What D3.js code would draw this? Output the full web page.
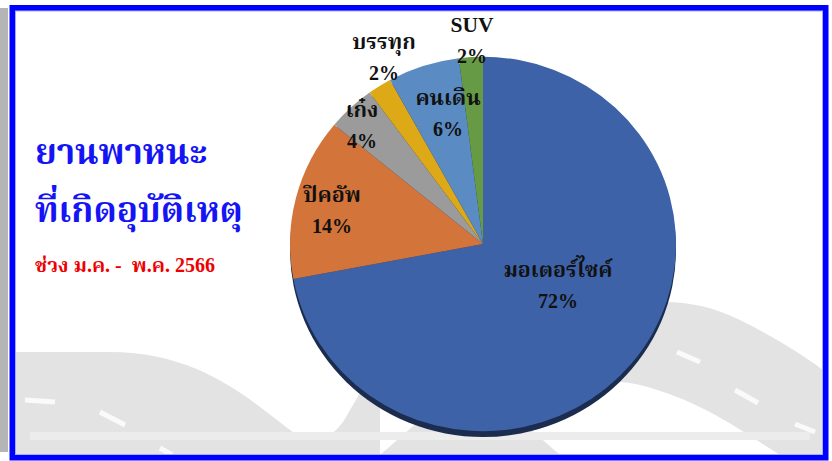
<!DOCTYPE html>
<html><head><meta charset="utf-8">
<script src="https://cdn.jsdelivr.net/npm/d3@7"></script>
<style>
html,body{margin:0;padding:0;background:#fff;}
svg{display:block;}
text{white-space:pre;}
</style></head>
<body>
<svg id="chart" width="832" height="461"></svg>
<script>
// ---- data ----
const categories = ["มอเตอร์ไซค์", "ปิคอัพ", "เก๋ง", "บรรทุก", "คนเดิน", "SUV"];
const values = [72, 14, 4, 2, 6, 2];
const percentLabels = ["72%", "14%", "4%", "2%", "6%", "2%"];
const colors = ["#3D62A8", "#D3743A", "#9B9B9B", "#DDA916", "#5A8BC2", "#679A44"];
const titleLines = ["ยานพาหนะ", "ที่เกิดอุบัติเหตุ"];
const subtitle = "ช่วง ม.ค. -  พ.ค. 2566";

const svg = d3.select("#chart");
const serifThai = "'Liberation Serif', 'Noto Serif Thai', 'Noto Sans Thai Looped', Tahoma, serif";

// ---- frame / background ----
svg.append("rect").attr("x",0).attr("y",8).attr("width",8).attr("height",444).attr("fill","#b5b5b5");
const bg = svg.append("g");
bg.append("path").attr("fill","#e3e3e3")
  .attr("d","M15,352 L110,352 C200,352 250,400 290,430 C315,448 335,440 350,410 L380,360 L380,455 L15,455 Z");
bg.append("path").attr("fill","#e3e3e3")
  .attr("d","M560,330 C620,300 680,290 740,320 C780,340 810,360 823,370 L823,455 L780,455 C740,430 700,400 640,385 C600,376 560,380 520,400 Z");
bg.append("path").attr("fill","#e3e3e3")
  .attr("d","M380,455 L420,420 L520,420 L560,455 Z");
bg.append("rect").attr("x",30).attr("y",432).attr("width",780).attr("height",8).attr("fill","#ececec");
const dashes = [[25,400,55,402],[100,412,125,425],[160,448,172,455],[677,352,700,362],[735,390,758,403],[795,424,815,432]];
bg.selectAll("line.d").data(dashes).join("line")
  .attr("x1",d=>d[0]).attr("y1",d=>d[1]).attr("x2",d=>d[2]).attr("y2",d=>d[3])
  .attr("stroke","#fafafa").attr("stroke-width",5);

svg.append("rect").attr("x",12.5).attr("y",8).attr("width",813).attr("height",449.5)
  .attr("fill","none").attr("stroke","#0000FF").attr("stroke-width",6);
svg.append("rect").attr("x",15.5).attr("y",11).attr("width",807).attr("height",443.5)
  .attr("fill","none").attr("stroke","#9fb0ff").attr("stroke-width",1);

// ---- pie ----
const cx = 483, cy = 244, R = 193;
const pie = d3.pie().value(d => d.v).sort(null);
const arcs = pie(categories.map((c,i) => ({c, v: values[i], i})));
const arc = d3.arc().innerRadius(0).outerRadius(R);

const g = svg.append("g").attr("transform", `translate(${cx},${cy}) scale(1,0.97)`);
g.append("circle").attr("cx",0).attr("cy",6).attr("r",R).attr("fill","#1b2c4f");
g.selectAll("path.slice").data(arcs).join("path")
  .attr("class","slice").attr("d", arc).attr("fill", d => colors[d.data.i]);

// ---- labels ----
const labelPos = d3.scaleOrdinal().domain(categories).range([
  [558, 277], [332, 202], [362, 117], [384, 49], [448, 105], [472, 32]
]);
const lbl = svg.append("g").attr("font-family", serifThai).attr("font-weight","bold")
  .attr("fill","#111").attr("text-anchor","middle");
categories.forEach((c, i) => {
  const [x, y] = labelPos(c);
  lbl.append("text").attr("x", x).attr("y", y).attr("font-size","21.5px").text(c);
  lbl.append("text").attr("x", x).attr("y", y + 31).attr("font-size","20px").text(percentLabels[i]);
});

// ---- title ----
svg.append("text").attr("x",35).attr("y",164).attr("font-family",serifThai).attr("font-weight","bold")
  .attr("font-size","35px").attr("fill","#1414F5").text(titleLines[0]);
svg.append("text").attr("x",35).attr("y",222).attr("font-family",serifThai).attr("font-weight","bold")
  .attr("font-size","35px").attr("fill","#1414F5").text(titleLines[1]);
svg.append("text").attr("x",35).attr("y",272).attr("font-family",serifThai).attr("font-weight","bold")
  .attr("font-size","20px").attr("fill","#EE0000").text(subtitle);
</script>
</body></html>
